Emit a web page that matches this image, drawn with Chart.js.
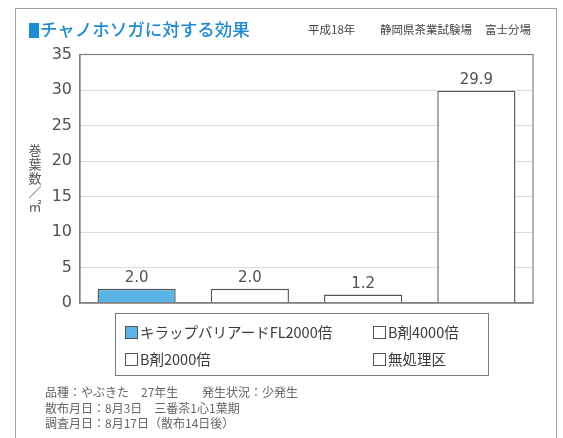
<!DOCTYPE html>
<html><head><meta charset="utf-8">
<script src="https://cdn.jsdelivr.net/npm/chart.js@4/dist/chart.umd.min.js"></script>
<style>
html,body{margin:0;padding:0;background:#fff;width:563px;height:438px;overflow:hidden;}
body{position:relative;font-family:'Noto Sans CJK JP',sans-serif;}
#c{position:absolute;left:0;top:0;}
.abs{position:absolute;white-space:nowrap;}
#frame{position:absolute;left:15px;top:8px;width:540px;height:450px;border:1.5px solid #a0a0a0;}
#title{left:29px;top:17px;font-size:17.5px;color:#1f8bd0;line-height:24px;font-weight:500;}
#title .sq{display:inline-block;width:10px;height:15px;background:#1f8bd0;vertical-align:-2px;margin-right:1px;}
.hdr{top:21px;font-size:11.5px;color:#444;line-height:16px;}
#ytitle{left:28px;top:143px;width:14px;font-size:13px;line-height:14px;color:#555;text-align:center;}
#legend{position:absolute;left:115px;top:313px;width:372px;height:61px;border:1.2px solid #7a7a7a;}
.li{position:absolute;font-size:14.5px;color:#3a3a3a;line-height:18px;white-space:nowrap;}
.li .sw{display:inline-block;width:11px;height:11px;border:1px solid #555;vertical-align:-1px;margin-right:2px;}
.note{left:45px;font-size:12px;color:#666;line-height:15px;}
</style></head>
<body>
<canvas id="c" width="563" height="438"></canvas>
<div id="frame"></div>
<div id="title" class="abs"><span class="sq"></span>チャノホソガに対する効果</div>
<div class="abs hdr" style="left:308px">平成18年</div>
<div class="abs hdr" style="left:380px">静岡県茶業試験場</div>
<div class="abs hdr" style="left:485px">富士分場</div>
<div id="ytitle" class="abs"></div>
<div id="legend"></div>
<div class="abs note" style="top:384px">品種：やぶきた　27年生</div>
<div class="abs note" style="top:384px;left:202px">発生状況：少発生</div>
<div class="abs note" style="top:400px">散布月日：8月3日　三番茶1心1葉期</div>
<div class="abs note" style="top:415px">調査月日：8月17日（散布14日後）</div>
<script>
const categories = ['キラップバリアードFL2000倍', 'B剤4000倍', 'B剤2000倍', '無処理区'];
const values = [2.0, 2.0, 1.2, 29.9];
const barColors = ['#5ab4e6', '#ffffff', '#ffffff', '#ffffff'];
const yTicks = [0, 5, 10, 15, 20, 25, 30, 35];
const yTitle = ['巻', '葉', '数', '／', '㎡'];

document.getElementById('ytitle').innerHTML = yTitle.map(c => '<div>' + c + '</div>').join('');

const lg = document.getElementById('legend');
const colX = [9, 257], rowY = [9, 36];
categories.forEach((c, i) => {
  const d = document.createElement('div');
  d.className = 'li';
  d.style.left = colX[i % 2] + 'px';
  d.style.top = rowY[Math.floor(i / 2)] + 'px';
  d.innerHTML = '<span class="sw" style="background:' + barColors[i] + '"></span>' + c;
  lg.appendChild(d);
});

const plotFrame = {
  id: 'plotFrame',
  afterDraw(chart) {
    const a = chart.chartArea, ctx = chart.ctx;
    ctx.save();
    ctx.strokeStyle = '#808080';
    ctx.lineWidth = 1.2;
    ctx.strokeRect(a.left, a.top, a.right - a.left, a.bottom - a.top);
    ctx.restore();
  }
};
const valueLabels = {
  id: 'valueLabels',
  afterDatasetsDraw(chart) {
    const ctx = chart.ctx;
    const meta = chart.getDatasetMeta(0);
    ctx.save();
    ctx.font = '15px "DejaVu Sans"';
    ctx.fillStyle = '#505050';
    ctx.textAlign = 'center';
    ctx.textBaseline = 'bottom';
    meta.data.forEach((el, i) => {
      ctx.fillText(values[i].toFixed(1), el.x, el.y - 3);
    });
    ctx.restore();
  }
};

new Chart(document.getElementById('c'), {
  type: 'bar',
  data: {
    labels: categories,
    datasets: [{
      data: values,
      backgroundColor: barColors,
      borderColor: '#555',
      borderWidth: 1.4,
      barPercentage: 0.69,
      categoryPercentage: 1.0
    }]
  },
  options: {
    responsive: false,
    animation: false,
    devicePixelRatio: 1,
    layout: { padding: { top: 54.5, right: 30, left: 0, bottom: 0 } },
    plugins: { legend: { display: false }, tooltip: { enabled: false }, title: { display: false } },
    scales: {
      x: {
        grid: { display: false },
        ticks: { display: false },
        border: { display: true, color: '#777', width: 1.2 },
        afterFit(s) { s.height = 135; }
      },
      y: {
        min: 0, max: 35,
        afterBuildTicks(s) { s.ticks = yTicks.map(v => ({ value: v })); },
        ticks: { color: '#505050', font: { family: 'DejaVu Sans', size: 16 }, padding: 8 },
        grid: { color: '#dcdcdc', lineWidth: 1, drawTicks: false },
        border: { display: true, color: '#777', width: 1.2 },
        afterFit(s) { s.width = 80; }
      }
    }
  },
  plugins: [plotFrame, valueLabels]
});
</script>
</body></html>
